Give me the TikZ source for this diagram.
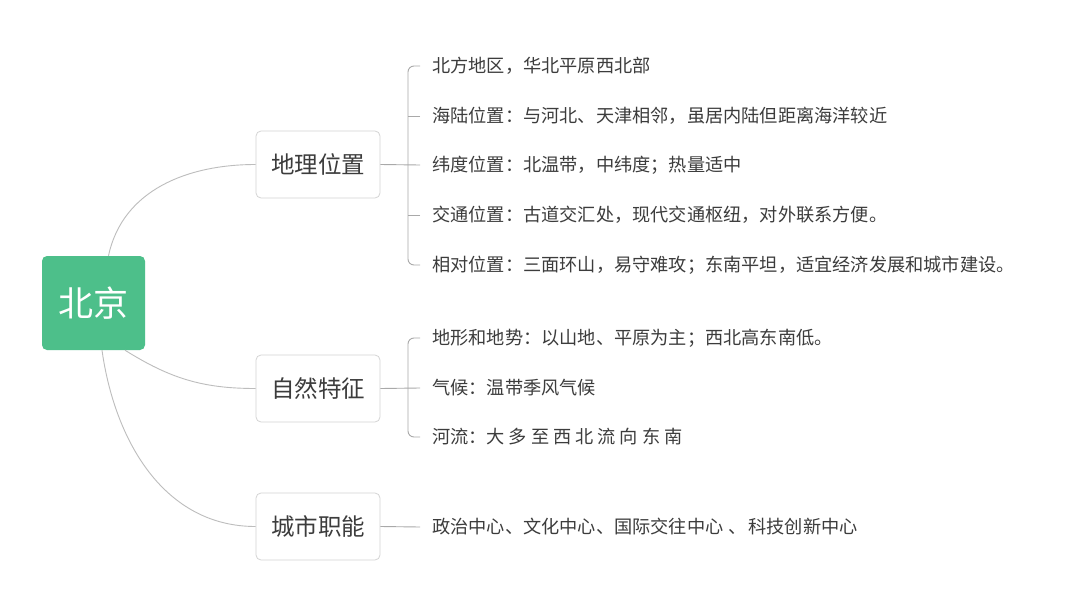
\documentclass[tikz,border=0pt]{standalone}
\usepackage{fontspec}
\newfontfamily\cjk{Noto Sans CJK SC}
\usepackage{xcolor}
\definecolor{rootgreen}{HTML}{4DBF8A}
\definecolor{inkgray}{HTML}{3C3C3C}
\definecolor{curvegray}{HTML}{BDBDBD}
\definecolor{forkgray}{HTML}{A9A9A9}
\definecolor{boxgray}{HTML}{D4D4D4}

\begin{document}
\begin{tikzpicture}[
    x=1pt,y=1pt,
    root/.style={fill=rootgreen,rounded corners=5pt,minimum width=103pt,minimum height=94pt,
      text=white,font=\cjk\fontsize{35}{40}\selectfont},
    topic/.style={draw=boxgray,line width=0.8pt,rounded corners=5pt,minimum width=124pt,
      minimum height=67pt,text=inkgray,font=\cjk\fontsize{23.5}{28}\selectfont},
    leaf/.style={anchor=west,inner xsep=12pt,text=inkgray,font=\cjk\fontsize{18.2}{22}\selectfont},
    curve/.style={draw=curvegray,line width=0.9pt},
    fork/.style={draw=forkgray,line width=0.9pt,rounded corners=6pt}
  ]
  \useasboundingbox[fill=white] (0,0) rectangle (1080,-608);

  \node[root] (bj) at (93.5,-303) {北京};

  \node[topic] (geo) at (318,-164.5) {地理位置};
  \node[topic] (nat) at (318,-388.5) {自然特征};
  \node[topic] (city) at (318,-526.5) {城市职能};

  % 地理位置
  \node[leaf] (g1) at (420,-66) {北方地区，华北平原西北部};
  \node[leaf] (g2) at (420,-116) {海陆位置：与河北、天津相邻，虽居内陆但距离海洋较近};
  \node[leaf] (g3) at (420,-165) {纬度位置：北温带，中纬度；热量适中};
  \node[leaf] (g4) at (420,-215) {交通位置：古道交汇处，现代交通枢纽，对外联系方便。};
  \node[leaf] (g5) at (420,-265) {相对位置：三面环山，易守难攻；东南平坦，适宜经济发展和城市建设。};

  % 自然特征
  \node[leaf] (n1) at (420,-338) {地形和地势：以山地、平原为主；西北高东南低。};
  \node[leaf] (n2) at (420,-388) {气候：温带季风气候};
  \node[leaf] (n3) at (420,-437) {河流：大\kern4pt 多\kern4pt 至\kern4pt 西\kern4pt 北\kern4pt 流\kern4pt 向\kern4pt 东\kern4pt 南};

  % 城市职能
  \node[leaf] (c1) at (420,-527) {政治中心、文化中心、国际交往中心\kern5pt 、\kern2pt 科技创新中心};

  \draw[curve] ([xshift=15pt]bj.north) to[out=78,in=180] (geo.west);
  \draw[curve] ([xshift=31.5pt]bj.south) to[out=-32,in=180] (nat.west);
  \draw[curve] ([xshift=8.5pt]bj.south) to[out=-82,in=180] (city.west);

  \draw[fork] (g1.west) -- ++(-12,0) |- (g5.west);
  \draw[fork] (geo.east) -- (g3.west);
  \foreach \n in {g2,g4}
    \draw[fork] (\n.west) -- ++(-12,0);
  \draw[fork] (n1.west) -- ++(-12,0) |- (n3.west);
  \draw[fork] (nat.east) -- (n2.west);
  \draw[fork] (city.east) -- (c1.west);
\end{tikzpicture}
\end{document}
